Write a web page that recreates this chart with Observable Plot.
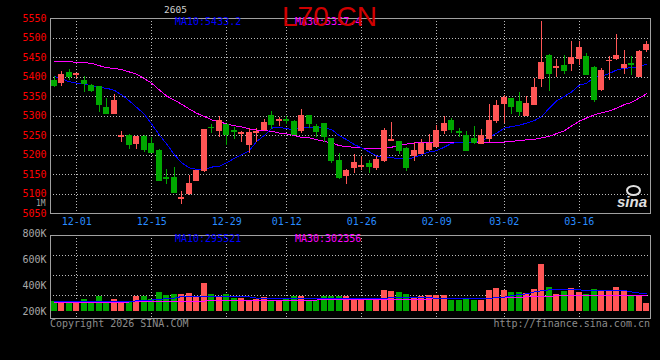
<!DOCTYPE html>
<html><head><meta charset="utf-8">
<script src="https://cdn.jsdelivr.net/npm/d3@7"></script>
<script src="https://cdn.jsdelivr.net/npm/@observablehq/plot@0.6"></script>
<style>
html,body{margin:0;padding:0;background:#000;}
#chart{position:relative;width:660px;height:360px;background:#000;overflow:hidden;font-family:"DejaVu Sans Mono",monospace;}
#chart svg{position:absolute;left:0;shape-rendering:crispEdges;}
.t{position:absolute;white-space:nowrap;font-size:10px;line-height:10px;font-family:"DejaVu Sans Mono",monospace;}
</style></head><body>
<div id="chart"></div>
<script>
const dates = ["11-26","11-27","11-28",
 "12-01","12-02","12-03","12-04","12-05","12-08","12-09","12-10","12-11","12-12",
 "12-15","12-16","12-17","12-18","12-19","12-22","12-23","12-24","12-25","12-26",
 "12-29","12-30","12-31",
 "01-05","01-06","01-07","01-08","01-09","01-12","01-13","01-14","01-15","01-16",
 "01-19","01-20","01-21","01-22","01-23","01-26","01-27","01-28","01-29","01-30",
 "02-02","02-03","02-04","02-05","02-06","02-09","02-10","02-11","02-12","02-13",
 "02-24","02-25","02-26","02-27",
 "03-02","03-03","03-04","03-05","03-06","03-09","03-10","03-11","03-12","03-13",
 "03-16","03-17","03-18","03-19","03-20","03-23","03-24","03-25","03-26","03-27"];
const opens = [5390,5384,5410,5405,5390,5378,5374,5321,5304,5247,5250,5229,5247,5227,5211,5142,
 5140,5087,5101,5133,5159,5270,5261,5278,5261,5255,5225,5256,5263,5300,5288,5290,
 5284,5261,5300,5273,5280,5242,5184,5146,5166,5170,5178,5167,5184,5235,5233,5216,
 5197,5203,5214,5220,5262,5288,5260,5250,5242,5228,5242,5288,5330,5344,5335,5300,
 5328,5396,5453,5423,5429,5433,5447,5452,5422,5367,5440,5446,5422,5433,5401,5469];
const highs = [5402,5415,5420,5408,5402,5381,5376,5344,5356,5259,5252,5247,5250,5244,5214,5163,
 5167,5106,5148,5158,5265,5279,5299,5279,5271,5261,5267,5269,5290,5312,5297,5299,
 5288,5316,5301,5279,5282,5243,5205,5163,5201,5197,5186,5197,5267,5284,5233,5218,
 5231,5239,5252,5275,5299,5293,5269,5261,5272,5265,5330,5339,5352,5346,5361,5350,
 5395,5542,5457,5446,5456,5490,5491,5460,5426,5422,5452,5509,5469,5452,5469,5490];
const lows = [5372,5375,5392,5395,5360,5360,5309,5303,5303,5233,5214,5214,5207,5205,5133,5125,
 5101,5072,5095,5133,5154,5256,5245,5225,5239,5231,5205,5233,5261,5265,5273,5278,
 5250,5255,5267,5245,5231,5177,5137,5125,5152,5161,5152,5161,5182,5234,5201,5157,
 5184,5201,5210,5218,5252,5256,5245,5208,5228,5228,5231,5282,5282,5305,5300,5299,
 5327,5373,5364,5398,5407,5415,5430,5403,5335,5362,5390,5443,5407,5405,5401,5464];
const closes = [5377,5404,5400,5407,5383,5365,5327,5304,5339,5249,5225,5247,5214,5206,5133,5139,
 5102,5089,5126,5158,5265,5268,5288,5252,5258,5257,5257,5259,5283,5278,5290,5287,
 5252,5300,5280,5258,5245,5184,5142,5160,5180,5173,5169,5188,5261,5238,5210,5167,
 5211,5227,5229,5262,5279,5265,5257,5211,5231,5248,5288,5326,5346,5322,5309,5330,
 5371,5437,5407,5425,5416,5449,5474,5405,5341,5415,5442,5454,5430,5430,5464,5481];
const ma10 = [5402,5395,5388,5384,5382,5377,5373,5371,5366,5354,5339,5322,5305,5279,5252,5228,
 5201,5180,5167,5163,5163,5169,5171,5180,5191,5201,5211,5235,5250,5269,5271,5267,
 5266,5269,5271,5272,5269,5265,5250,5239,5227,5218,5208,5197,5193,5193,5191,5189,
 5194,5201,5208,5211,5220,5230,5233,5231,5231,5238,5245,5256,5269,5273,5276,5282,
 5288,5299,5320,5339,5350,5362,5379,5384,5399,5402,5409,5418,5422,5424,5426,5433];
const ma30 = [5439,5439,5439,5438,5437,5435,5429,5424,5422,5419,5413,5407,5396,5384,5367,5351,
 5341,5330,5318,5307,5299,5290,5286,5279,5275,5272,5267,5264,5262,5261,5256,5254,
 5250,5245,5244,5239,5235,5231,5224,5221,5220,5218,5216,5216,5218,5220,5225,5228,
 5231,5233,5233,5233,5233,5233,5233,5231,5231,5231,5231,5231,5233,5235,5237,5239,
 5240,5244,5248,5255,5262,5275,5286,5295,5303,5308,5313,5320,5329,5335,5346,5357];
const volumes = [271,271,264,267,285,267,315,267,285,256,267,308,308,292,346,323,
 328,328,338,302,408,328,315,328,297,297,271,292,302,279,277,297,
 310,310,279,279,310,315,310,310,292,292,292,292,361,348,346,328,
 302,310,323,323,323,279,279,297,279,277,361,375,361,341,341,331,
 369,554,380,328,348,375,341,328,366,354,361,379,354,323,323,261].map(v => v * 1000);
const volMa10 = [277,277,277,277,277,277,277,277,277,277,277,282,285,288,294,298,
 303,315,315,315,315,315,315,313,313,313,313,303,303,303,303,303,
 298,298,298,298,298,298,298,298,298,300,300,300,300,307,307,307,
 307,307,307,301,301,301,301,301,301,301,301,306,310,322,330,336,
 350,360,366,366,366,366,366,362,362,362,362,362,362,350,342,338].map(v => v * 1000);
const volMa30 = [273,273,273,273,273,273,273,273,273,273,273,280,280,280,280,280,
 280,280,280,280,280,288,288,288,288,288,288,288,288,288,288,288,
 288,288,288,288,295,295,295,295,295,295,295,295,295,295,295,295,
 295,295,295,301,301,301,301,301,301,301,301,307,307,307,307,314,
 314,314,314,322,322,322,322,322,322,322,322,322,322,322,322,322].map(v => v * 1000);

const dateTicks = ["12-01","12-15","12-29","01-12","01-26","02-09","03-02","03-16"];
const priceTicks = [5050,5100,5150,5200,5250,5300,5350,5400,5450,5500,5550];
const priceGrid = [5100,5150,5200,5250,5300,5350,5400,5450,5500];
const volTicks = [200000,400000,600000,800000];
const volTickLabels = ["200K","400K","600K","800K"];
const volGrid = [323000,477000,631000];

const RED = "#ff5555", GREEN = "#00a800", GRID = "#bdbdbd", BORDER = "#a0a0a0";
const candles = dates.map((d, i) => ({
  date: d, open: opens[i], high: highs[i], low: lows[i], close: closes[i],
  ma10: ma10[i], ma30: ma30[i], vol: volumes[i], vma10: volMa10[i], vma30: volMa30[i],
  col: closes[i] >= opens[i] ? RED : GREEN
}));
const xOpts = {type: "band", domain: dates, paddingInner: 0.2, paddingOuter: 0.1, round: false, axis: null};
const baseStyle = {background: "transparent", fontFamily: "DejaVu Sans Mono, monospace", fontSize: "10px", overflow: "visible"};

const price = Plot.plot({
  width: 660, height: 232, marginLeft: 50, marginRight: 10, marginTop: 18, marginBottom: 19,
  style: baseStyle,
  x: xOpts,
  y: {domain: [5050, 5550], axis: null},
  color: {type: "identity"},
  marks: [
    Plot.ruleY(priceGrid, {y: d => d, stroke: GRID, strokeDasharray: "1,2"}),
    Plot.ruleX(dateTicks, {x: d => d, stroke: GRID, strokeDasharray: "1,2"}),
    Plot.lineY(candles, {x: "date", y: "ma30", stroke: "#ff00ff", strokeWidth: 1}),
    Plot.lineY(candles, {x: "date", y: "ma10", stroke: "#0000ff", strokeWidth: 1}),
    Plot.ruleX(candles, {x: "date", y1: "low", y2: "high", stroke: "col", strokeWidth: 1}),
    Plot.barY(candles, {x: "date", y1: "open", y2: "close", fill: "col", stroke: "col", strokeWidth: 1, insetLeft: 0.5, insetRight: 0.5}),
    Plot.frame({stroke: BORDER}),
    Plot.axisY(priceTicks, {tickSize: 0, tickPadding: 4, color: "#ff0000", label: null, fontSize: 10, tickFormat: d => String(d)}),
    Plot.axisX(dateTicks, {tickSize: 0, tickPadding: 4, color: "#2a8cff", label: null, fontSize: 10})
  ]
});
price.style.top = "0px";

const vol = Plot.plot({
  width: 660, height: 100, marginLeft: 50, marginRight: 10, marginTop: 10, marginBottom: 7,
  style: baseStyle,
  x: xOpts,
  y: {domain: [146150, 784600], axis: null},
  color: {type: "identity"},
  marks: [
    Plot.ruleY(volGrid, {y: d => d, stroke: GRID, strokeDasharray: "1,2"}),
    Plot.ruleX(dateTicks, {x: d => d, stroke: GRID, strokeDasharray: "1,2"}),
    Plot.barY(candles, {x: "date", y1: 200000, y2: "vol", fill: "col", stroke: "col", strokeWidth: 1, insetLeft: 0.5, insetRight: 0.5}),
    Plot.lineY(candles, {x: "date", y: "vma30", stroke: "#ff00ff", strokeWidth: 1}),
    Plot.lineY(candles, {x: "date", y: "vma10", stroke: "#0000ff", strokeWidth: 1}),
    Plot.frame({stroke: BORDER}),
    Plot.text(volTicks, {y: d => d, text: (d, i) => volTickLabels[i], frameAnchor: "left", dx: -4, textAnchor: "end", fill: "#a8a8a8", fontSize: 10})
  ]
});
vol.style.top = "225px";

const chart = document.getElementById("chart");
chart.append(price, vol);

function addText(txt, css) {
  const s = document.createElement("div");
  s.className = "t";
  s.textContent = txt;
  Object.assign(s.style, css);
  chart.append(s);
}
addText("2605", {left: "164px", top: "5px", color: "#d0d0d0", fontSize: "9.5px"});
addText("MA10:5433.2", {left: "175px", top: "17px", color: "#0000ff"});
addText("MA30:5357.4", {left: "295px", top: "17px", color: "#ff00ff"});
addText("L70 CN", {left: "282px", top: "3px", color: "#d00000", fontSize: "28px", lineHeight: "28px", fontFamily: "'Liberation Sans', Arial, sans-serif"});
addText("1M", {left: "36px", top: "200px", color: "#a8a8a8", fontSize: "8px", lineHeight: "8px"});
addText("MA10:295521", {left: "175px", top: "234px", color: "#0000ff"});
addText("MA30:302356", {left: "295px", top: "234px", color: "#ff00ff"});
addText("Copyright 2026 SINA.COM", {left: "50px", top: "319px", color: "#8c8c8c"});
addText("http://finance.sina.com.cn", {right: "10px", top: "319px", color: "#8c8c8c"});
addText("sina", {left: "617px", top: "194px", color: "#e0e0e0", fontSize: "15px", lineHeight: "15px", fontStyle: "italic", fontWeight: "bold", fontFamily: "'Liberation Sans', Arial, sans-serif"});
const eye = document.createElement("div");
Object.assign(eye.style, {position: "absolute", left: "626px", top: "185px", width: "11px", height: "7px", border: "2px solid #e0e0e0", borderRadius: "50%"});
chart.append(eye);
</script>
</body></html>
